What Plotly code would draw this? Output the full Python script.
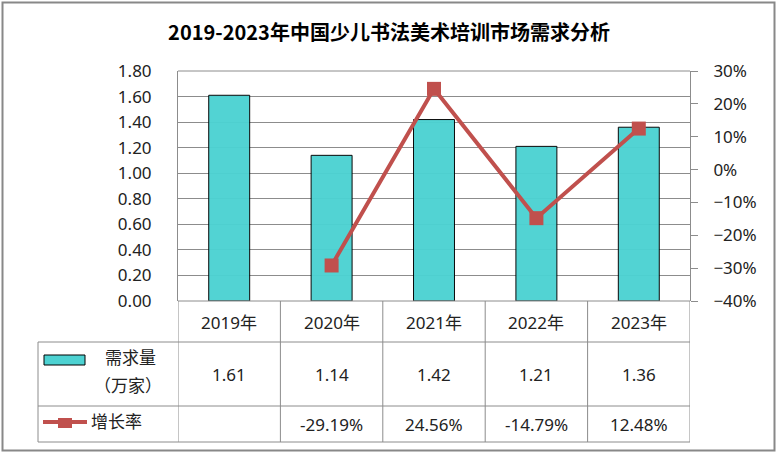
import plotly.graph_objects as go

# Data
years = ['2019年', '2020年', '2021年', '2022年', '2023年']
demand = [1.61, 1.14, 1.42, 1.21, 1.36]            # 需求量（万家）
growth = [None, -29.19, 24.56, -14.79, 12.48]      # 增长率 (%)

demand_labels = ['%.2f' % v for v in demand]
growth_labels = ['' if g is None else '%.2f%%' % g for g in growth]

title = '2019-2023年中国少儿书法美术培训市场需求分析'

W, H = 778, 456
PL, PR, PT, PB = 178, 690, 71, 301   # plot area in pixels

BAR_COLOR = '#4DD2D2'
LINE_COLOR = '#C0504D'
GRID = '#8C8C8C'
FONT = 'Noto Sans, Noto Sans CJK SC, sans-serif'


def xp(px):
    return (px - PL) / (PR - PL)


def yp(py):
    return (PB - py) / (PB - PT)


fig = go.Figure()

fig.add_trace(go.Bar(
    x=years, y=demand, name='需求量（万家）',
    marker=dict(color=BAR_COLOR, line=dict(color='black', width=1)),
    opacity=0.97,
))
fig.add_trace(go.Scatter(
    x=years, y=growth, name='增长率', yaxis='y2', mode='lines+markers',
    line=dict(color=LINE_COLOR, width=4),
    marker=dict(symbol='square', size=14, color=LINE_COLOR),
))

fig.update_layout(
    width=W, height=H,
    margin=dict(l=PL, r=W - PR, t=PT, b=H - PB, pad=0),
    plot_bgcolor='white', paper_bgcolor='white',
    showlegend=False, bargap=0.6,
    font=dict(family=FONT, size=17, color='#222'),
    title=dict(text='<b>' + title + '</b>', x=0.5, xanchor='center',
               y=1 - 33 / H, yanchor='middle',
               font=dict(family='Noto Sans CJK SC, sans-serif', size=20, color='black')),
    xaxis=dict(showticklabels=False, showgrid=False, zeroline=False,
               showline=False, range=[-0.5, 4.5]),
    yaxis=dict(range=[0, 1.8], dtick=0.2, tickformat='.2f',
               showgrid=True, gridcolor=GRID, gridwidth=1, zeroline=False,
               showline=True, linecolor=GRID, linewidth=1,
               ticks='', ticklabelstandoff=22),
    yaxis2=dict(range=[-40, 30], dtick=10, ticksuffix='%', overlaying='y',
                side='right', showgrid=False, zeroline=False,
                showline=True, linecolor=GRID, linewidth=1,
                ticks='outside', ticklen=7, tickcolor=GRID,
                ticklabelstandoff=12),
)

shapes = []
line = dict(color=GRID, width=1)
# top gridline of plot area
shapes.append(dict(type='line', xref='paper', yref='paper', x0=0, x1=1,
                   y0=1, y1=1, line=line))
# horizontal table lines
for py, x0 in [(PB, PL), (342, 38), (406, 38), (442, 38)]:
    shapes.append(dict(type='line', xref='paper', yref='paper',
                       x0=xp(x0), x1=1, y0=yp(py), y1=yp(py), line=line))
# vertical table lines at category boundaries
for i in range(len(years) + 1):
    shapes.append(dict(type='line', xref='x', yref='paper',
                       x0=i - 0.5, x1=i - 0.5, y0=yp(PB), y1=yp(442), line=line))
# left column edge
shapes.append(dict(type='line', xref='paper', yref='paper',
                   x0=xp(38), x1=xp(38), y0=yp(342), y1=yp(442), line=line))
# legend keys
shapes.append(dict(type='rect', xref='paper', yref='paper',
                   x0=xp(44), x1=xp(85), y0=yp(355), y1=yp(365),
                   fillcolor=BAR_COLOR, line=dict(color='black', width=1)))
shapes.append(dict(type='line', xref='paper', yref='paper',
                   x0=xp(43), x1=xp(87), y0=yp(422), y1=yp(422),
                   line=dict(color=LINE_COLOR, width=4)))
shapes.append(dict(type='rect', xref='paper', yref='paper',
                   x0=xp(58), x1=xp(72), y0=yp(418), y1=yp(428),
                   fillcolor=LINE_COLOR, line=dict(width=0)))
# outer frame
shapes.append(dict(type='rect', xref='paper', yref='paper',
                   x0=xp(2.5), x1=xp(774.5), y0=yp(2.5), y1=yp(450.5),
                   line=dict(color='#888888', width=2)))
fig.update_layout(shapes=shapes)

ann = []
for i, yr in enumerate(years):
    ann.append(dict(x=i, xref='x', y=yp(322), yref='paper', text=yr,
                    showarrow=False, xanchor='center', yanchor='middle'))
    ann.append(dict(x=i, xref='x', y=yp(374), yref='paper', text=demand_labels[i],
                    showarrow=False, xanchor='center', yanchor='middle'))
    ann.append(dict(x=i, xref='x', y=yp(424), yref='paper', text=growth_labels[i],
                    showarrow=False, xanchor='center', yanchor='middle'))
ann.append(dict(x=xp(130), xref='paper', y=yp(357), yref='paper', text='需求量',
                showarrow=False, xanchor='center', yanchor='middle'))
ann.append(dict(x=xp(128), xref='paper', y=yp(386), yref='paper', text='（万家）',
                showarrow=False, xanchor='center', yanchor='middle'))
ann.append(dict(x=xp(89), xref='paper', y=yp(422), yref='paper', text='增长率',
                showarrow=False, xanchor='left', yanchor='middle'))
fig.update_layout(annotations=ann)

fig.write_html('out.html', config={'displayModeBar': False},
               post_script="document.body.style.margin='0';")
